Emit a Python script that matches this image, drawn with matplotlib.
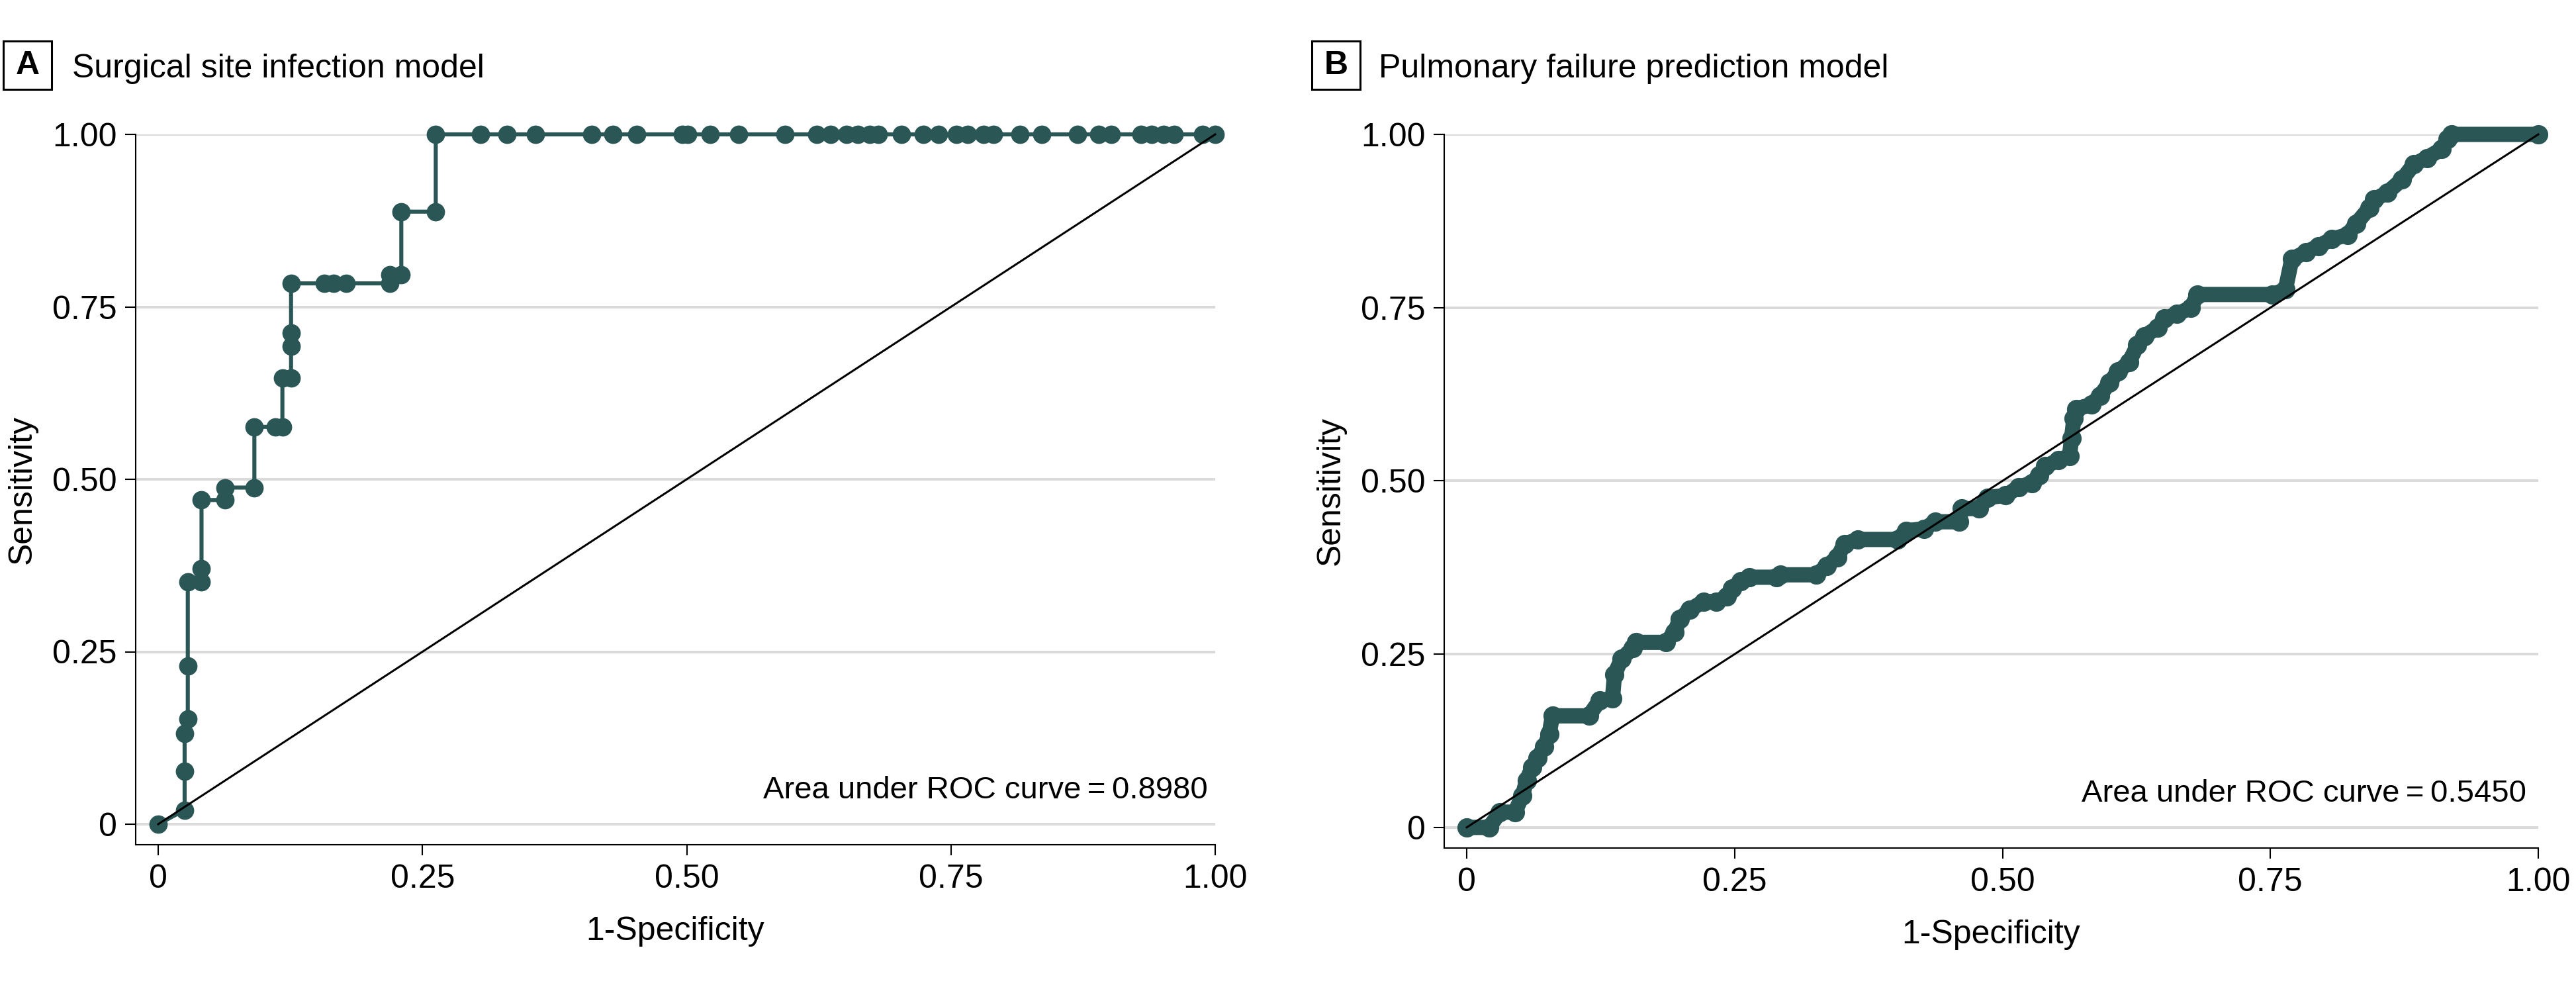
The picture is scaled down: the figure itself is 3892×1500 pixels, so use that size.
import matplotlib
matplotlib.use("Agg")
import matplotlib.pyplot as plt
import matplotlib.patches as patches

plt.rcParams['font.family'] = ['Liberation Sans', 'DejaVu Sans']

# Panel A - surgical site infection ROC points (1-specificity, sensitivity)
fpr_a = [0, 0.025, 0.025, 0.025, 0.028, 0.028, 0.028, 0.041, 0.041, 0.041,
         0.063, 0.063, 0.091, 0.091, 0.111, 0.1175, 0.1175, 0.1257, 0.1257,
         0.1257, 0.1257, 0.157, 0.166, 0.178, 0.219, 0.219, 0.230, 0.230,
         0.2626, 0.2626,
         0.305, 0.330, 0.357, 0.410, 0.430, 0.453, 0.496, 0.501, 0.522, 0.549,
         0.593, 0.623, 0.636, 0.651, 0.662, 0.673, 0.681, 0.703, 0.724, 0.738,
         0.755, 0.766, 0.781, 0.790, 0.815, 0.836, 0.870, 0.890, 0.902, 0.930,
         0.940, 0.951, 0.961, 0.988, 1.0]
tpr_a = [0, 0.0205, 0.077, 0.131, 0.153, 0.229, 0.351, 0.351, 0.370, 0.470,
         0.470, 0.488, 0.488, 0.576, 0.576, 0.576, 0.647, 0.647, 0.693,
         0.7125, 0.784, 0.784, 0.784, 0.784, 0.784, 0.797, 0.797, 0.888,
         0.888, 1.0,
         1.0, 1.0, 1.0, 1.0, 1.0, 1.0, 1.0, 1.0, 1.0, 1.0,
         1.0, 1.0, 1.0, 1.0, 1.0, 1.0, 1.0, 1.0, 1.0, 1.0,
         1.0, 1.0, 1.0, 1.0, 1.0, 1.0, 1.0, 1.0, 1.0, 1.0,
         1.0, 1.0, 1.0, 1.0, 1.0]

# Panel B - pulmonary failure ROC points
fpr_b = [0, 0.021, 0.031, 0.045, 0.052, 0.056, 0.061, 0.066, 0.0725, 0.077,
         0.080, 0.114, 0.124, 0.136, 0.138, 0.1445, 0.155, 0.158, 0.186, 0.194,
         0.199, 0.208, 0.221, 0.233, 0.243, 0.2475, 0.256, 0.264, 0.289, 0.293,
         0.326, 0.336, 0.346, 0.3525, 0.365, 0.402, 0.410, 0.427, 0.437, 0.4595,
         0.462, 0.478, 0.486, 0.503, 0.515, 0.5275, 0.534, 0.540, 0.552, 0.5625,
         0.5645, 0.5666, 0.5687, 0.583, 0.591, 0.600, 0.608, 0.618, 0.626, 0.6325,
         0.645, 0.651, 0.663, 0.676, 0.682, 0.752, 0.764, 0.770, 0.783, 0.795,
         0.8075, 0.822, 0.830, 0.8425, 0.847, 0.859, 0.873, 0.884, 0.896, 0.910,
         0.9156, 0.919, 1.0]
tpr_b = [0, 0, 0.022, 0.022, 0.046, 0.068, 0.087, 0.100, 0.116, 0.135,
         0.161, 0.161, 0.183, 0.186, 0.221, 0.243, 0.259, 0.267, 0.267, 0.282,
         0.301, 0.314, 0.326, 0.326, 0.333, 0.345, 0.355, 0.361, 0.361, 0.3645,
         0.3645, 0.377, 0.390, 0.409, 0.4155, 0.4155, 0.428, 0.431, 0.441, 0.441,
         0.460, 0.460, 0.476, 0.479, 0.491, 0.497, 0.508, 0.521, 0.530, 0.536,
         0.562, 0.590, 0.604, 0.610, 0.623, 0.642, 0.658, 0.671, 0.696, 0.709,
         0.7215, 0.734, 0.741, 0.750, 0.769, 0.769, 0.776, 0.820, 0.830, 0.839,
         0.849, 0.855, 0.871, 0.894, 0.906, 0.916, 0.935, 0.957, 0.966, 0.979,
         0.993, 1.0, 1.0]

ticks = [0, 0.25, 0.50, 0.75, 1.00]
tick_labels = ['0', '0.25', '0.50', '0.75', '1.00']

panels = [
    ("A", "Surgical site infection model", "Area under ROC curve\u2009=\u20090.8980", fpr_a, tpr_a),
    ("B", "Pulmonary failure prediction model", "Area under ROC curve\u2009=\u20090.5450", fpr_b, tpr_b),
]

TEAL = '#2B5656'
W, H = 3892, 1500
FS = 18

fig = plt.figure(figsize=(W / 200, H / 200), dpi=200)

# axes rectangles in pixel units: (left spine, right x=1, top y=1, bottom spine)
boxes = [(205, 1836, 203, 1276), (2182, 3835, 203, 1281)]
letter_x = [5, 1982]
title_x = [109, 2083]

for i, (letter, title, auc, fx, ty) in enumerate(panels):
    l, r, t, b = boxes[i]
    ax = fig.add_axes([l / W, 1 - b / H, (r - l) / W, (b - t) / H])
    x0 = l + 34
    ax.set_xlim(-(x0 - l) / (r - x0), 1.0)
    ax.set_ylim(-31 / 1042, 1.0)

    if i == 0:
        ax.plot(fx, ty, color=TEAL, lw=2.2, marker='o', markersize=9,
                clip_on=False, zorder=3)
    else:
        ax.plot(fx, ty, color=TEAL, lw=8.3, marker='o', markersize=9.5,
                solid_capstyle='round', solid_joinstyle='round',
                clip_on=False, zorder=3)
    ax.plot([0, 1], [0, 1], color='black', lw=1.1, zorder=4, clip_on=False)

    ax.set_xticks(ticks)
    ax.set_xticklabels(tick_labels)
    ax.set_yticks(ticks)
    ax.set_yticklabels(tick_labels)
    ax.tick_params(direction='out', length=5.8, width=0.75, pad=4.5,
                   labelsize=FS, colors='black')
    ax.grid(True, axis='y', color='#d9d9d9', lw=1.4, zorder=0)
    ax.set_axisbelow(True)
    for s in ['top', 'right']:
        ax.spines[s].set_visible(False)
    for s in ['left', 'bottom']:
        ax.spines[s].set_linewidth(0.75)

    ax.set_xlabel('1-Specificity', fontsize=FS, labelpad=12)
    ax.set_ylabel('Sensitivity', fontsize=FS, labelpad=8)

    ax.text(0.993 if i == 0 else 0.989, 0.037, auc, ha='right', va='baseline',
            fontsize=17)

    # panel letter box and title
    lx = letter_x[i]
    fig.patches.append(patches.Rectangle((lx / W, 1 - 135 / H), 73 / W, 73 / H,
                                         transform=fig.transFigure, fill=False,
                                         ec='black', lw=1.1))
    fig.text((lx + 36.5) / W, 1 - 98.5 / H, letter, ha='center', va='center',
             fontsize=FS, fontweight='bold')
    fig.text(title_x[i] / W, 1 - 117 / H, title, ha='left', va='baseline',
             fontsize=FS)

fig.savefig('out.png', dpi=200)
